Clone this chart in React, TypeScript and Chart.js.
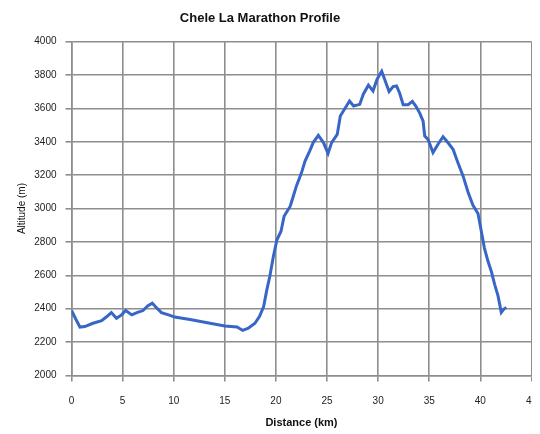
import React, { useEffect, useRef } from "react";
import { Chart, registerables } from "chart.js";

Chart.register(...registerables);

const distanceKm: number[] = [
  0, 0.4, 0.83, 1.3, 2.1, 2.95, 3.4, 3.9, 4.4, 4.9, 5.3, 5.9, 6.4, 7.0, 7.45, 7.9, 8.2, 8.8, 9.5, 10.1,
  11.6, 13.55, 15.0, 16.2, 16.75, 17.3, 17.95, 18.4, 18.8, 19.1, 19.4, 19.75, 20.1, 20.5, 20.8, 21.4,
  21.7, 22.0, 22.5, 22.85, 23.3, 23.65, 24.15, 24.65, 25.1, 25.45, 26.0, 26.3, 26.6, 27.2, 27.6, 28.2,
  28.55, 29.05, 29.5, 29.9, 30.35, 31.07, 31.47, 31.8, 32.1, 32.45, 32.93, 33.35, 33.7, 34.07, 34.4,
  34.56, 34.88, 35.37, 35.86, 36.35, 36.84, 37.33, 37.8, 38.3, 38.8, 39.28, 39.77, 40.1, 40.4, 40.75,
  41.07, 41.4, 41.73, 42.05, 42.3, 42.55,
];

const altitudeM: number[] = [
  2390, 2340, 2290, 2293, 2313, 2329, 2350, 2377, 2343, 2363, 2389, 2363, 2377, 2389, 2417, 2433, 2413,
  2377, 2363, 2350, 2335, 2313, 2297, 2290, 2270, 2283, 2313, 2355, 2413, 2510, 2593, 2713, 2813, 2864,
  2954, 3014, 3074, 3134, 3214, 3284, 3344, 3395, 3438, 3395, 3330, 3395, 3444, 3554, 3584, 3644, 3614,
  3624, 3685, 3739, 3705, 3775, 3822, 3701, 3731, 3735, 3692, 3622, 3622, 3642, 3612, 3572, 3523, 3434,
  3414, 3335, 3385, 3430, 3394, 3355, 3276, 3197, 3098, 3019, 2970, 2862, 2763, 2684, 2625, 2546, 2477,
  2378, 2398, 2408,
];

const chartTitle = "Chele La Marathon Profile";
const xTitle = "Distance (km)";
const yTitle = "Altitude (m)";
const xMin = 0;
const xMax = 45;
const xStep = 5;
const yMin = 2000;
const yMax = 4000;
const yStep = 200;

export default function App() {
  const ref = useRef<HTMLCanvasElement | null>(null);

  useEffect(() => {
    document.body.style.margin = "0";
    const canvas = ref.current;
    if (!canvas) return;
    const gridColor = "#8e8e8e";
    const font = "'Liberation Sans', Arial, sans-serif";
    const chart = new Chart(canvas, {
      type: "line",
      data: {
        datasets: [
          {
            data: distanceKm.map((d, i) => ({ x: d, y: altitudeM[i] })),
            borderColor: "#3766c6",
            borderWidth: 3,
            pointRadius: 0,
            tension: 0,
            fill: false,
          },
        ],
      },
      options: {
        responsive: false,
        animation: false,
        layout: { padding: { left: -12, right: 19, top: 0, bottom: 0 } },
        plugins: {
          legend: { display: false },
          tooltip: { enabled: false },
          title: {
            display: true,
            text: chartTitle,
            color: "#111",
            font: { family: font, size: 13, weight: "bold" },
            padding: { top: 11, bottom: 15 },
          },
        },
        scales: {
          x: {
            type: "linear",
            min: xMin,
            max: xMax,
            ticks: {
              stepSize: xStep,
              color: "#222",
              font: { family: font, size: 10 },
              padding: 14,
              maxRotation: 0,
            },
            grid: { color: gridColor, lineWidth: 1.6, tickLength: 6 },
            border: { color: gridColor, width: 1.6 },
            title: {
              display: true,
              text: xTitle,
              color: "#111",
              font: { family: font, size: 11, weight: "bold" },
              padding: { top: 0, bottom: 4 },
            },
            afterFit: (scale: any) => {
              scale.height = 58.5;
            },
          },
          y: {
            min: yMin,
            max: yMax,
            ticks: {
              stepSize: yStep,
              color: "#222",
              font: { family: font, size: 10 },
              padding: 9,
              callback: (v: any) => String(v),
            },
            grid: { color: gridColor, lineWidth: 1.6, tickLength: 6 },
            border: { color: gridColor, width: 1.6 },
            title: {
              display: true,
              text: yTitle,
              color: "#111",
              font: { family: font, size: 10 },
              padding: { top: 28.5, bottom: 0 },
            },
            afterFit: (scale: any) => {
              scale.width = 83.5;
            },
          },
        },
      },
    });
    return () => chart.destroy();
  }, []);

  return (
    <div style={{ width: 532, height: 434, overflow: "hidden", background: "#fff" }}>
      <canvas ref={ref} width={551} height={434} style={{ display: "block" }} />
    </div>
  );
}
